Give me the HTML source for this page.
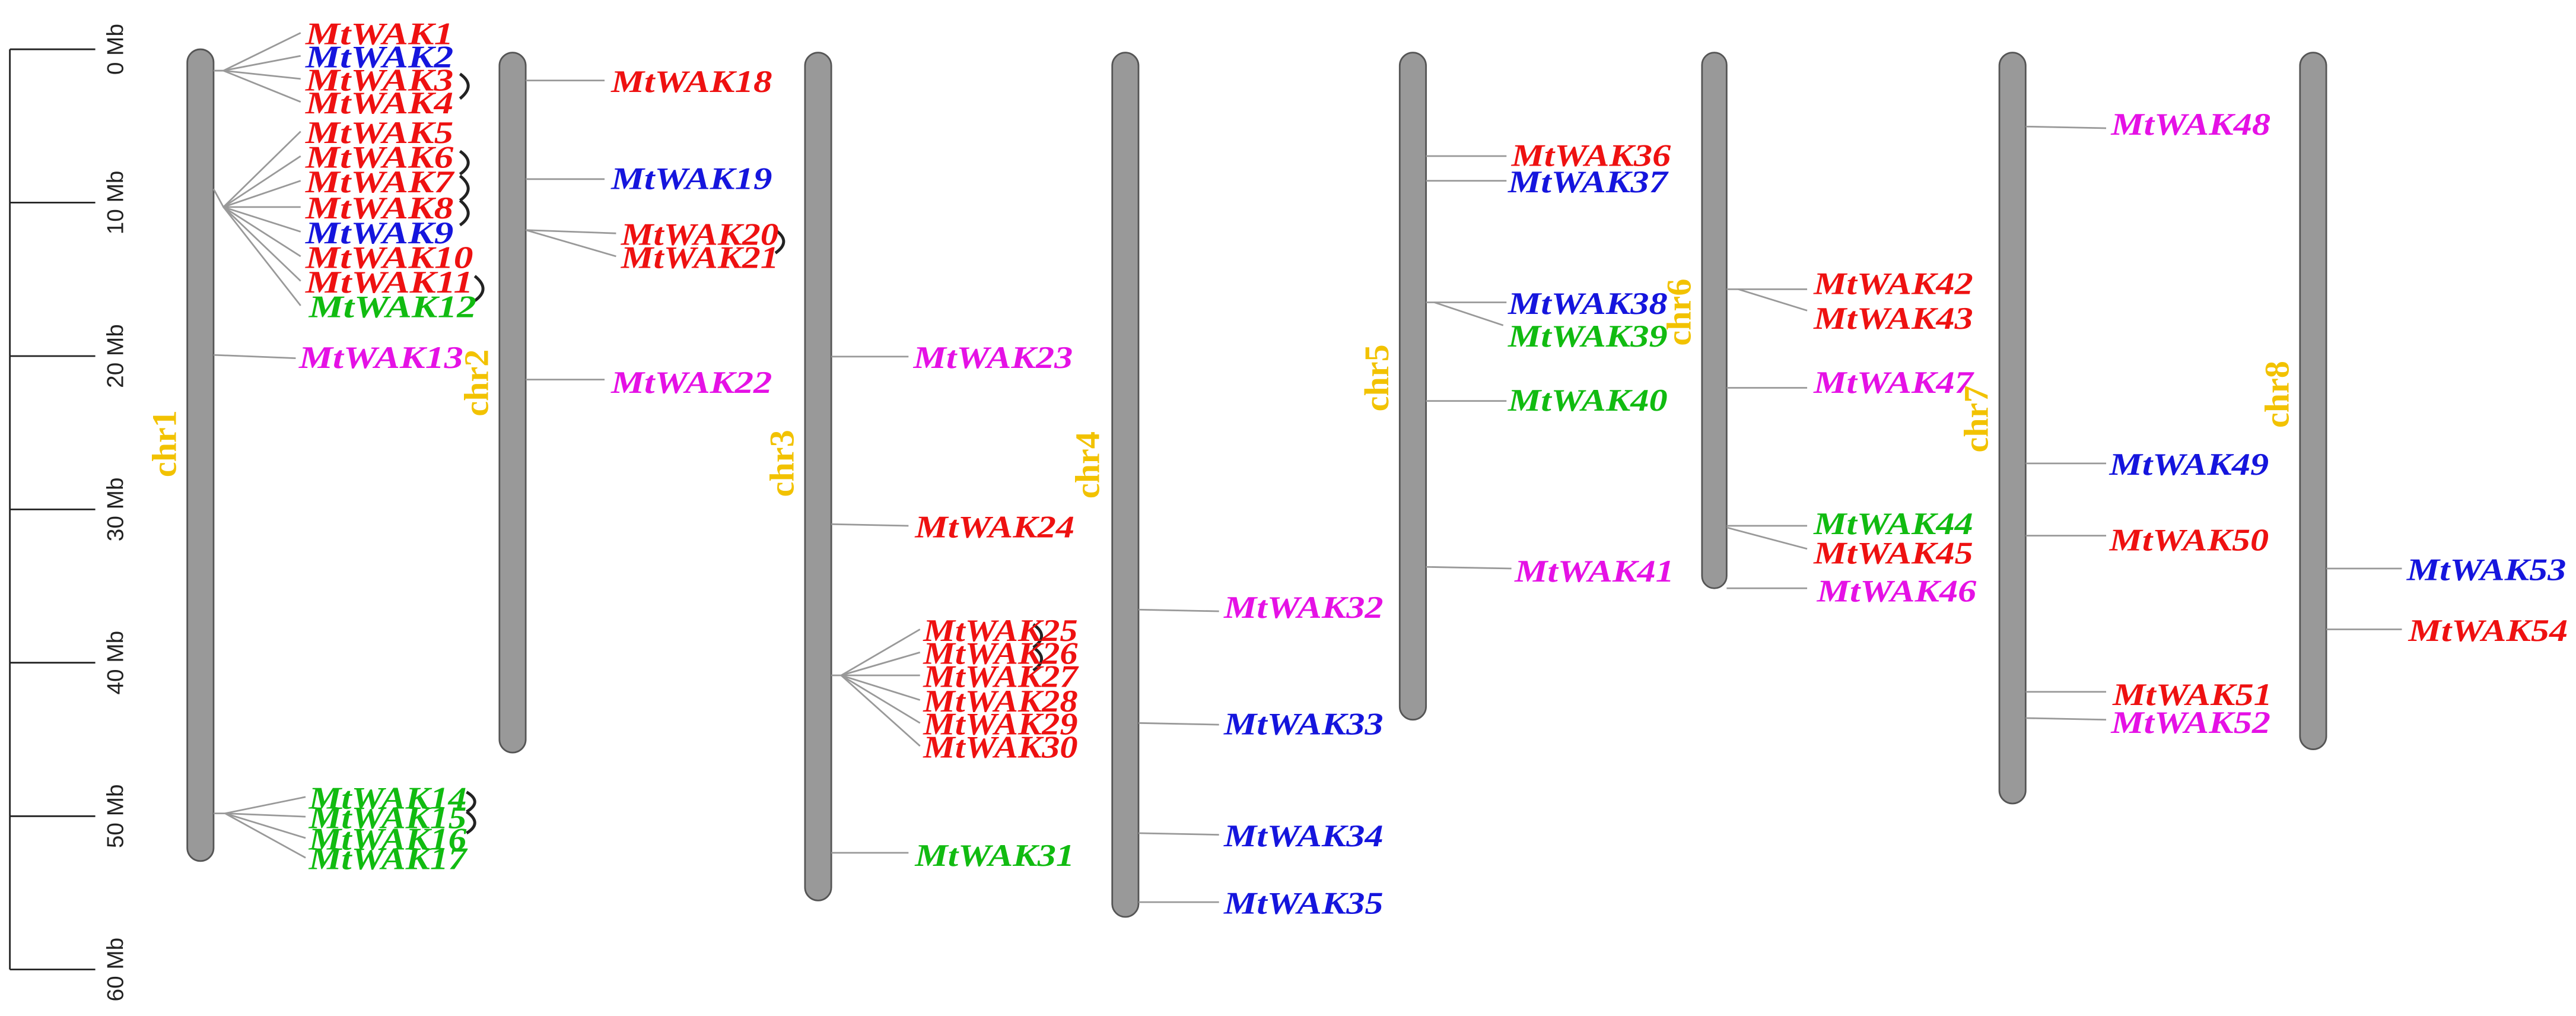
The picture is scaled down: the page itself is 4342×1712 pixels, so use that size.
<!DOCTYPE html>
<html><head><meta charset="utf-8"><style>html,body{margin:0;padding:0;background:#fff}svg{display:block}.s{font-family:"Liberation Serif",serif}.a{font-family:"Liberation Sans",sans-serif}</style></head>
<body>
<svg xmlns="http://www.w3.org/2000/svg" width="4342" height="1712" viewBox="0 0 1568 618.3" preserveAspectRatio="none">
<rect width="1568" height="618.3" fill="#fff"/>
<g stroke="#222" stroke-width="1" fill="none">
<line x1="6" y1="30" x2="6" y2="590"/>
<line x1="6" y1="30" x2="58" y2="30"/><line x1="6" y1="123.3" x2="58" y2="123.3"/><line x1="6" y1="216.7" x2="58" y2="216.7"/><line x1="6" y1="310" x2="58" y2="310"/><line x1="6" y1="403.3" x2="58" y2="403.3"/><line x1="6" y1="496.7" x2="58" y2="496.7"/><line x1="6" y1="590" x2="58" y2="590"/>
</g>
<g class="a" font-size="14" fill="#222" text-anchor="middle">
<text transform="translate(75,30) rotate(-90)">0 Mb</text>
<text transform="translate(75,123.3) rotate(-90)">10 Mb</text>
<text transform="translate(75,216.7) rotate(-90)">20 Mb</text>
<text transform="translate(75,310) rotate(-90)">30 Mb</text>
<text transform="translate(75,403.3) rotate(-90)">40 Mb</text>
<text transform="translate(75,496.7) rotate(-90)">50 Mb</text>
<text transform="translate(75,590) rotate(-90)">60 Mb</text>
</g>
<g fill="#999" stroke="#555" stroke-width="1">
<rect x="114" y="30" width="16" height="494" rx="8"/>
<rect x="304" y="32" width="16" height="426" rx="8"/>
<rect x="490" y="32" width="16" height="516" rx="8"/>
<rect x="677" y="32" width="16" height="526" rx="8"/>
<rect x="852" y="32" width="16" height="406" rx="8"/>
<rect x="1036" y="32" width="15" height="326" rx="7.5"/>
<rect x="1217" y="32" width="16" height="457" rx="8"/>
<rect x="1400" y="32" width="16" height="424" rx="8"/>
</g>
<g class="s" font-weight="bold" font-size="21" fill="#f2c200" text-anchor="middle">
<text transform="translate(107,270) rotate(-90)">chr1</text>
<text transform="translate(297,233) rotate(-90)">chr2</text>
<text transform="translate(483,282) rotate(-90)">chr3</text>
<text transform="translate(669,283) rotate(-90)">chr4</text>
<text transform="translate(845,230) rotate(-90)">chr5</text>
<text transform="translate(1029,190) rotate(-90)">chr6</text>
<text transform="translate(1210,255) rotate(-90)">chr7</text>
<text transform="translate(1393,240) rotate(-90)">chr8</text>
</g>
<g stroke="#999" stroke-width="1" fill="none">
<line x1="130" y1="43" x2="136" y2="43"/>
<polyline points="136,43 183,20"/><polyline points="136,43 183,34"/><polyline points="136,43 183,48"/><polyline points="136,43 183,62"/>
<polyline points="130,115 136,126 183,80"/><line x1="136" y1="126" x2="183" y2="95"/><line x1="136" y1="126" x2="183" y2="110"/><line x1="136" y1="126" x2="183" y2="126"/><line x1="136" y1="126" x2="183" y2="141"/><line x1="136" y1="126" x2="183" y2="156"/><line x1="136" y1="126" x2="183" y2="171"/><line x1="136" y1="126" x2="183" y2="186"/>
<line x1="130" y1="216" x2="180" y2="218"/>
<line x1="130" y1="495" x2="137" y2="495"/><line x1="137" y1="495" x2="186" y2="485"/><line x1="137" y1="495" x2="186" y2="497"/><line x1="137" y1="495" x2="186" y2="510"/><line x1="137" y1="495" x2="186" y2="522"/>
<line x1="320" y1="49" x2="368" y2="49"/><line x1="320" y1="109" x2="368" y2="109"/>
<line x1="320" y1="140" x2="375" y2="142"/><line x1="320" y1="140" x2="375" y2="156"/>
<line x1="320" y1="231" x2="368" y2="231"/>
<line x1="506" y1="217" x2="553" y2="217"/><line x1="506" y1="319" x2="553" y2="320"/>
<line x1="506" y1="411" x2="512" y2="411"/><line x1="512" y1="411" x2="560" y2="383"/><line x1="512" y1="411" x2="560" y2="397"/><line x1="512" y1="411" x2="560" y2="411"/><line x1="512" y1="411" x2="560" y2="426"/><line x1="512" y1="411" x2="560" y2="440"/><line x1="512" y1="411" x2="560" y2="454"/>
<line x1="506" y1="519" x2="553" y2="519"/>
<line x1="693" y1="371" x2="742" y2="372"/><line x1="693" y1="440" x2="742" y2="441"/><line x1="693" y1="507" x2="742" y2="508"/><line x1="693" y1="549" x2="742" y2="549"/>
<line x1="868" y1="95" x2="917" y2="95"/><line x1="868" y1="110" x2="917" y2="110"/>
<line x1="868" y1="184" x2="917" y2="184"/><line x1="873" y1="184" x2="915" y2="198"/>
<line x1="868" y1="244" x2="917" y2="244"/><line x1="868" y1="345" x2="920" y2="346"/>
<line x1="1051" y1="176" x2="1100" y2="176"/><line x1="1058" y1="176" x2="1100" y2="189"/>
<line x1="1051" y1="236" x2="1100" y2="236"/>
<line x1="1051" y1="320" x2="1100" y2="320"/><line x1="1051" y1="321" x2="1100" y2="334"/>
<line x1="1051" y1="358" x2="1100" y2="358"/>
<line x1="1233" y1="77" x2="1282" y2="78"/><line x1="1233" y1="282" x2="1282" y2="282"/><line x1="1233" y1="326" x2="1282" y2="326"/><line x1="1233" y1="421" x2="1282" y2="421"/><line x1="1233" y1="437" x2="1282" y2="438"/>
<line x1="1416" y1="346" x2="1462" y2="346"/><line x1="1416" y1="383" x2="1462" y2="383"/>
</g>
<g stroke="#222" stroke-width="1.8" fill="none">
<path d="M280,45 q10,7 0,15"/>
<path d="M280,92 q10,7 0,14"/><path d="M280,107 q10,8 0,15"/><path d="M280,122 q10,8 0,15"/>
<path d="M289,168 q10,8 0,15"/>
<path d="M284,482 q10,6 0,12"/><path d="M284,494 q10,7 0,13"/>
<path d="M472,140 q10,7 0,14"/>
<path d="M629,380 q10,7 0,14"/><path d="M629,394 q10,7 0,14"/>
</g>
<g class="s" font-weight="bold" font-style="italic" font-size="19">
<g fill="#ee1111">
<text x="186" y="27" textLength="90" lengthAdjust="spacingAndGlyphs">MtWAK1</text>
<text x="186" y="55" textLength="90" lengthAdjust="spacingAndGlyphs">MtWAK3</text>
<text x="186" y="69" textLength="90" lengthAdjust="spacingAndGlyphs">MtWAK4</text>
<text x="186" y="87" textLength="90" lengthAdjust="spacingAndGlyphs">MtWAK5</text>
<text x="186" y="102" textLength="90" lengthAdjust="spacingAndGlyphs">MtWAK6</text>
<text x="186" y="117" textLength="90" lengthAdjust="spacingAndGlyphs">MtWAK7</text>
<text x="186" y="133" textLength="90" lengthAdjust="spacingAndGlyphs">MtWAK8</text>
<text x="186" y="163" textLength="102" lengthAdjust="spacingAndGlyphs">MtWAK10</text>
<text x="186" y="178" textLength="102" lengthAdjust="spacingAndGlyphs">MtWAK11</text>
<text x="372" y="56" textLength="98" lengthAdjust="spacingAndGlyphs">MtWAK18</text>
<text x="378" y="149" textLength="96" lengthAdjust="spacingAndGlyphs">MtWAK20</text>
<text x="378" y="163" textLength="96" lengthAdjust="spacingAndGlyphs">MtWAK21</text>
<text x="557" y="327" textLength="97" lengthAdjust="spacingAndGlyphs">MtWAK24</text>
<text x="562" y="390" textLength="94" lengthAdjust="spacingAndGlyphs">MtWAK25</text>
<text x="562" y="404" textLength="94" lengthAdjust="spacingAndGlyphs">MtWAK26</text>
<text x="562" y="418" textLength="94" lengthAdjust="spacingAndGlyphs">MtWAK27</text>
<text x="562" y="433" textLength="94" lengthAdjust="spacingAndGlyphs">MtWAK28</text>
<text x="562" y="447" textLength="94" lengthAdjust="spacingAndGlyphs">MtWAK29</text>
<text x="562" y="461" textLength="94" lengthAdjust="spacingAndGlyphs">MtWAK30</text>
<text x="920" y="101" textLength="97" lengthAdjust="spacingAndGlyphs">MtWAK36</text>
<text x="1104" y="179" textLength="97" lengthAdjust="spacingAndGlyphs">MtWAK42</text>
<text x="1104" y="200" textLength="97" lengthAdjust="spacingAndGlyphs">MtWAK43</text>
<text x="1104" y="343" textLength="97" lengthAdjust="spacingAndGlyphs">MtWAK45</text>
<text x="1284" y="335" textLength="97" lengthAdjust="spacingAndGlyphs">MtWAK50</text>
<text x="1286" y="429" textLength="97" lengthAdjust="spacingAndGlyphs">MtWAK51</text>
<text x="1466" y="390" textLength="97" lengthAdjust="spacingAndGlyphs">MtWAK54</text>
</g>
<g fill="#1515dd">
<text x="186" y="41" textLength="90" lengthAdjust="spacingAndGlyphs">MtWAK2</text>
<text x="186" y="148" textLength="90" lengthAdjust="spacingAndGlyphs">MtWAK9</text>
<text x="372" y="115" textLength="98" lengthAdjust="spacingAndGlyphs">MtWAK19</text>
<text x="745" y="447" textLength="97" lengthAdjust="spacingAndGlyphs">MtWAK33</text>
<text x="745" y="515" textLength="97" lengthAdjust="spacingAndGlyphs">MtWAK34</text>
<text x="745" y="556" textLength="97" lengthAdjust="spacingAndGlyphs">MtWAK35</text>
<text x="918" y="117" textLength="97" lengthAdjust="spacingAndGlyphs">MtWAK37</text>
<text x="918" y="191" textLength="97" lengthAdjust="spacingAndGlyphs">MtWAK38</text>
<text x="1284" y="289" textLength="97" lengthAdjust="spacingAndGlyphs">MtWAK49</text>
<text x="1465" y="353" textLength="97" lengthAdjust="spacingAndGlyphs">MtWAK53</text>
</g>
<g fill="#11bb11">
<text x="188" y="193" textLength="102" lengthAdjust="spacingAndGlyphs">MtWAK12</text>
<text x="188" y="492" textLength="96" lengthAdjust="spacingAndGlyphs">MtWAK14</text>
<text x="188" y="504" textLength="96" lengthAdjust="spacingAndGlyphs">MtWAK15</text>
<text x="188" y="517" textLength="96" lengthAdjust="spacingAndGlyphs">MtWAK16</text>
<text x="188" y="529" textLength="96" lengthAdjust="spacingAndGlyphs">MtWAK17</text>
<text x="557" y="527" textLength="97" lengthAdjust="spacingAndGlyphs">MtWAK31</text>
<text x="918" y="211" textLength="97" lengthAdjust="spacingAndGlyphs">MtWAK39</text>
<text x="918" y="250" textLength="97" lengthAdjust="spacingAndGlyphs">MtWAK40</text>
<text x="1104" y="325" textLength="97" lengthAdjust="spacingAndGlyphs">MtWAK44</text>
</g>
<g fill="#e511e5">
<text x="182" y="224" textLength="100" lengthAdjust="spacingAndGlyphs">MtWAK13</text>
<text x="372" y="239" textLength="98" lengthAdjust="spacingAndGlyphs">MtWAK22</text>
<text x="556" y="224" textLength="97" lengthAdjust="spacingAndGlyphs">MtWAK23</text>
<text x="745" y="376" textLength="97" lengthAdjust="spacingAndGlyphs">MtWAK32</text>
<text x="922" y="354" textLength="97" lengthAdjust="spacingAndGlyphs">MtWAK41</text>
<text x="1104" y="239" textLength="97" lengthAdjust="spacingAndGlyphs">MtWAK47</text>
<text x="1106" y="366" textLength="97" lengthAdjust="spacingAndGlyphs">MtWAK46</text>
<text x="1285" y="82" textLength="97" lengthAdjust="spacingAndGlyphs">MtWAK48</text>
<text x="1285" y="446" textLength="97" lengthAdjust="spacingAndGlyphs">MtWAK52</text>
</g>
</g>
</svg>
</body></html>
